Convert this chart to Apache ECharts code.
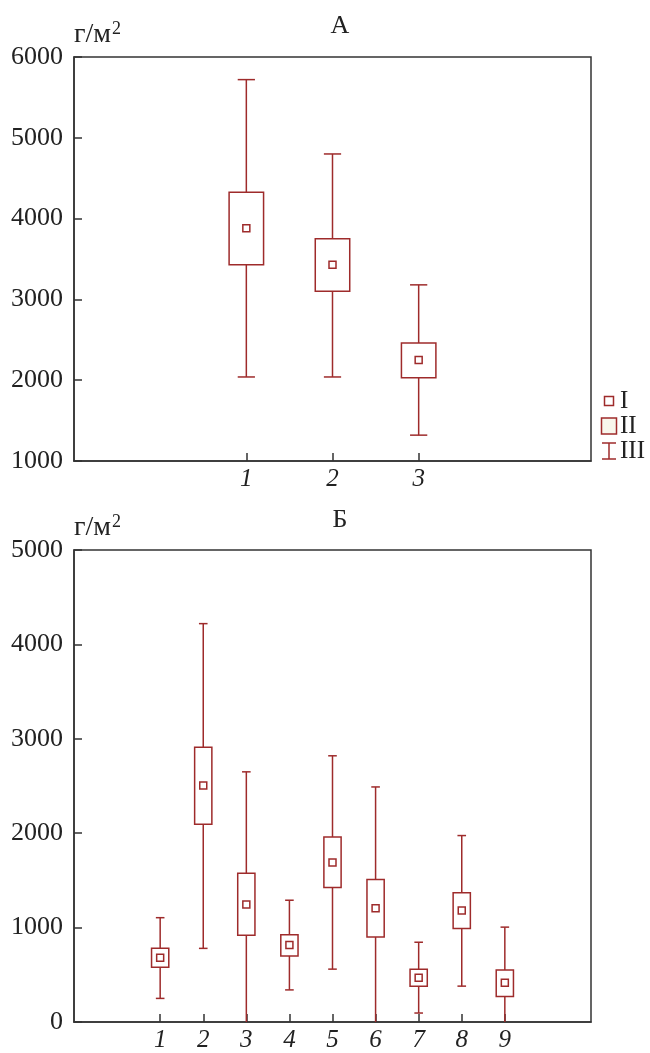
<!DOCTYPE html>
<html>
<head>
<meta charset="utf-8">
<script src="https://cdn.jsdelivr.net/npm/echarts@6/dist/echarts.min.js"></script>
<style>
html,body{margin:0;padding:0;background:#fff;}
#chart{width:650px;height:1053px;}
</style>
</head>
<body>
<div id="chart"></div>
<script>
// Panel А
const catsA = [1, 2, 3];
const aWhiskerLow  = [2040, 2040, 1320];
const aBoxLow      = [3430, 3100, 2030];
const aMean        = [3880, 3430, 2250];
const aBoxHigh     = [4325, 3750, 2460];
const aWhiskerHigh = [5720, 4800, 3180];
const yTicksA = [1000, 2000, 3000, 4000, 5000, 6000];

// Panel Б
const catsB = [1, 2, 3, 4, 5, 6, 7, 8, 9];
const bWhiskerLow  = [250, 780, 0, 340, 560, 0, 95, 380, 0];
const bBoxLow      = [580, 2095, 920, 700, 1425, 900, 380, 990, 270];
const bMean        = [680, 2505, 1245, 815, 1690, 1205, 470, 1180, 415];
const bBoxHigh     = [780, 2910, 1575, 925, 1960, 1510, 560, 1370, 550];
const bWhiskerHigh = [1105, 4220, 2650, 1290, 2820, 2490, 845, 1975, 1005];
const yTicksB = [0, 1000, 2000, 3000, 4000, 5000];

const legendNames = ['I', 'II', 'III'];
const titles = ['А', 'Б'];
const unitMain = 'г/м';
const unitSup = '2';

const RED = '#9e2b2b';
const AX = '#333';
const FONT = '"Liberation Serif", "DejaVu Serif", serif';

function buildData(cats, wl, bl, m, bh, wh) {
  return cats.map((c, i) => [c, wl[i], bl[i], m[i], bh[i], wh[i]]);
}

function renderBox(params, api) {
  const x = api.value(0);
  const wl = api.value(1), bl = api.value(2), m = api.value(3), bh = api.value(4), wh = api.value(5);
  const boxW = api.size([0.4, 0])[0];
  const capW = api.size([0.2, 0])[0];
  const pWl = api.coord([x, wl]);
  const pBl = api.coord([x, bl]);
  const pM = api.coord([x, m]);
  const pBh = api.coord([x, bh]);
  const pWh = api.coord([x, wh]);
  const cx = pM[0];
  const ls = { stroke: RED, lineWidth: 1.5, fill: null };
  const children = [
    { type: 'line', shape: { x1: cx, y1: pWh[1], x2: cx, y2: pBh[1] }, style: ls },
    { type: 'line', shape: { x1: cx, y1: pBl[1], x2: cx, y2: pWl[1] }, style: ls },
    { type: 'line', shape: { x1: cx - capW / 2, y1: pWh[1], x2: cx + capW / 2, y2: pWh[1] }, style: ls },
    { type: 'rect', shape: { x: cx - boxW / 2, y: pBh[1], width: boxW, height: pBl[1] - pBh[1] },
      style: { stroke: RED, lineWidth: 1.5, fill: '#fff' } },
    { type: 'rect', shape: { x: cx - 3.5, y: pM[1] - 3.5, width: 7, height: 7 },
      style: { stroke: RED, lineWidth: 1.5, fill: '#fff' } }
  ];
  if (wl > 0) {
    children.push({ type: 'line', shape: { x1: cx - capW / 2, y1: pWl[1], x2: cx + capW / 2, y2: pWl[1] }, style: ls });
  }
  return { type: 'group', children: children };
}

function xAxisCfg(idx, max, cats) {
  return {
    gridIndex: idx, type: 'value', min: -1, max: max, interval: 1,
    splitLine: { show: false },
    axisLine: { show: true, onZero: false, lineStyle: { color: AX, width: 1.5 } },
    axisTick: { show: true, inside: true, length: 8, lineStyle: { color: AX, width: 1.5 }, customValues: cats },
    axisLabel: { show: true, customValues: cats, margin: 6, color: '#222', fontFamily: FONT,
      fontStyle: 'italic', fontSize: 25, formatter: v => String(v) }
  };
}

function yAxisCfg(idx, ticks) {
  return {
    gridIndex: idx, type: 'value', min: ticks[0], max: ticks[ticks.length - 1],
    interval: ticks[1] - ticks[0],
    splitLine: { show: false },
    axisLine: { show: true, onZero: false, lineStyle: { color: AX, width: 1.5 } },
    axisTick: { show: true, inside: true, length: 8, lineStyle: { color: AX, width: 1.5 } },
    axisLabel: { margin: 11, color: '#222', fontFamily: FONT, fontSize: 26, formatter: v => String(v) },
    name: '{a|' + unitMain + '}{b|' + unitSup + '}',
    nameLocation: 'end', nameGap: 7,
    nameTextStyle: {
      align: 'left', verticalAlign: 'bottom',
      rich: {
        a: { fontFamily: FONT, fontSize: 28, color: '#222' },
        b: { fontFamily: FONT, fontSize: 18, color: '#222', verticalAlign: 'top', padding: [0, 0, 12, 1] }
      }
    }
  };
}

const chart = echarts.init(document.getElementById('chart'), null, { renderer: 'canvas' });

const legendY = [401, 426, 451];
const option = {
  animation: false,
  backgroundColor: '#fff',
  title: [
    { text: titles[0], left: 335, top: 8, textAlign: 'center',
      textStyle: { fontFamily: FONT, fontSize: 26, fontWeight: 'normal', color: '#222' } },
    { text: titles[1], left: 335, top: 502, textAlign: 'center',
      textStyle: { fontFamily: FONT, fontSize: 26, fontWeight: 'normal', color: '#222' } }
  ],
  grid: [
    { left: 74, top: 57, width: 517, height: 404, show: true, borderColor: AX, borderWidth: 1.5, backgroundColor: 'transparent' },
    { left: 74, top: 550, width: 517, height: 475, show: true, borderColor: AX, borderWidth: 1.5, backgroundColor: 'transparent' }
  ],
  xAxis: [ xAxisCfg(0, 5, catsA), xAxisCfg(1, 11, catsB) ],
  yAxis: [ yAxisCfg(0, yTicksA), yAxisCfg(1, yTicksB) ],
  series: [
    { type: 'custom', xAxisIndex: 0, yAxisIndex: 0, renderItem: renderBox, clip: false,
      encode: { x: 0, y: [1, 2, 3, 4, 5] },
      data: buildData(catsA, aWhiskerLow, aBoxLow, aMean, aBoxHigh, aWhiskerHigh) },
    { type: 'custom', xAxisIndex: 1, yAxisIndex: 1, renderItem: renderBox, clip: false,
      encode: { x: 0, y: [1, 2, 3, 4, 5] },
      data: buildData(catsB, bWhiskerLow, bBoxLow, bMean, bBoxHigh, bWhiskerHigh) }
  ],
  graphic: [
    { type: 'rect', shape: { x: 604.5, y: legendY[0] - 4.5, width: 9, height: 9 },
      style: { stroke: RED, lineWidth: 1.5, fill: '#fff' } },
    { type: 'rect', shape: { x: 601.5, y: legendY[1] - 8, width: 15, height: 16 },
      style: { stroke: RED, lineWidth: 1.5, fill: '#f8f6ec' } },
    { type: 'line', shape: { x1: 609, y1: legendY[2] - 8, x2: 609, y2: legendY[2] + 8 }, style: { stroke: RED, lineWidth: 1.5 } },
    { type: 'line', shape: { x1: 602, y1: legendY[2] - 8, x2: 616, y2: legendY[2] - 8 }, style: { stroke: RED, lineWidth: 1.5 } },
    { type: 'line', shape: { x1: 602, y1: legendY[2] + 8, x2: 616, y2: legendY[2] + 8 }, style: { stroke: RED, lineWidth: 1.5 } },
    { type: 'text', x: 620, y: legendY[0], style: { text: legendNames[0], fontFamily: FONT, fontSize: 25, fill: '#222', verticalAlign: 'middle' } },
    { type: 'text', x: 620, y: legendY[1], style: { text: legendNames[1], fontFamily: FONT, fontSize: 25, fill: '#222', verticalAlign: 'middle' } },
    { type: 'text', x: 620, y: legendY[2], style: { text: legendNames[2], fontFamily: FONT, fontSize: 25, fill: '#222', verticalAlign: 'middle' } }
  ]
};
chart.setOption(option);
</script>
</body>
</html>
